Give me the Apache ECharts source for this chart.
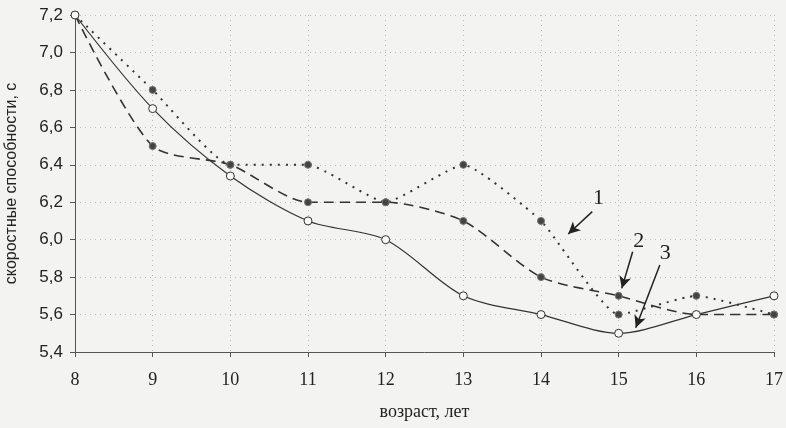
<!DOCTYPE html>
<html>
<head>
<meta charset="utf-8">
<script src="https://cdn.jsdelivr.net/npm/echarts@6/dist/echarts.min.js"></script>
<style>
  html, body { margin: 0; padding: 0; background: #f3f3f1; }
  #chart { width: 786px; height: 428px; }
</style>
</head>
<body>
<div id="chart"></div>
<script>
var ages = [8, 9, 10, 11, 12, 13, 14, 15, 16, 17];
var series1 = [7.2, 6.8, 6.4, 6.4, 6.2, 6.4, 6.1, 5.6, 5.7, 5.6];
var series2 = [7.2, 6.5, 6.4, 6.2, 6.2, 6.1, 5.8, 5.7, 5.6, 5.6];
var series3 = [7.2, 6.7, 6.34, 6.1, 6.0, 5.7, 5.6, 5.5, 5.6, 5.7];
var yTicks = [5.4, 5.6, 5.8, 6.0, 6.2, 6.4, 6.6, 6.8, 7.0, 7.2];
// callouts: label, label position, arrow start, arrow end
var notes = [
  { text: '1', at: [14.74, 6.22], from: [14.66, 6.15], to: [14.35, 6.03] },
  { text: '2', at: [15.26, 5.99], from: [15.18, 5.935], to: [15.04, 5.74] },
  { text: '3', at: [15.60, 5.93], from: [15.53, 5.865], to: [15.22, 5.53] }
];

function pairs(vals) {
  return ages.map(function(a, i) { return [a, vals[i]]; });
}

var ink = '#333';
var myChart = echarts.init(document.getElementById('chart'));
var option = {
  backgroundColor: '#f3f3f1',
  animation: false,
  grid: { left: 75, right: 12, top: 15, bottom: 76, containLabel: false, outerBoundsMode: 'none' },
  xAxis: {
    type: 'value',
    min: 8, max: 17, interval: 1,
    name: 'возраст, лет',
    nameLocation: 'middle',
    nameGap: 51,
    nameTextStyle: { fontFamily: 'Liberation Serif', fontSize: 18, color: '#222' },
    axisLine: { lineStyle: { color: '#555', width: 1 } },
    axisTick: { show: true, length: 5, lineStyle: { color: '#555' } },
    axisLabel: { fontFamily: 'Liberation Serif', fontSize: 18, color: '#222', margin: 19 },
    splitLine: { show: true, lineStyle: { color: '#bbb', type: [1, 4] } }
  },
  yAxis: {
    type: 'value',
    min: 5.4, max: 7.2, interval: 0.2,
    name: 'скоростные способности, с',
    nameLocation: 'middle',
    nameGap: 55,
    nameTextStyle: { fontFamily: 'Liberation Sans', fontSize: 16, color: '#222' },
    axisLine: { show: true, lineStyle: { color: '#555', width: 1 } },
    axisTick: { show: true, length: 5, lineStyle: { color: '#555' } },
    axisLabel: {
      fontFamily: 'Liberation Sans', fontSize: 17, color: '#222', margin: 12,
      formatter: function(v) { return v.toFixed(1).replace('.', ','); }
    },
    splitLine: { show: true, lineStyle: { color: '#bbb', type: [1, 4] } }
  },
  series: [
    {
      name: '1', type: 'line', smooth: 0.15,
      data: pairs(series1),
      symbol: 'circle', symbolSize: 7,
      itemStyle: { color: '#444', borderColor: '#777', borderWidth: 1 },
      lineStyle: { color: ink, width: 2, type: [2, 6] },
      z: 3
    },
    {
      name: '2', type: 'line', smooth: 0.25,
      data: pairs(series2),
      symbol: 'circle', symbolSize: 7,
      itemStyle: { color: '#444', borderColor: '#777', borderWidth: 1 },
      lineStyle: { color: ink, width: 1.6, type: [10, 6] },
      z: 3
    },
    {
      name: '3', type: 'line', smooth: 0.3,
      data: pairs(series3),
      symbol: 'circle', symbolSize: 8,
      itemStyle: { color: '#f8f8f6', borderColor: ink, borderWidth: 1 },
      lineStyle: { color: ink, width: 1.2 },
      z: 4,
      markLine: {
        silent: true,
        symbol: ['none', 'arrow'],
        symbolSize: [9, 12],
        label: { show: false },
        lineStyle: { color: '#222', width: 1.5, type: 'solid' },
        data: notes.map(function(n) {
          return [{ coord: n.from }, { coord: n.to }];
        })
      },
      markPoint: {
        silent: true,
        symbol: 'circle', symbolSize: 1,
        itemStyle: { color: 'rgba(0,0,0,0)' },
        label: {
          show: true, position: 'inside',
          fontFamily: 'Liberation Serif', fontSize: 22, color: '#222',
          formatter: function(p) { return p.name; }
        },
        data: notes.map(function(n) {
          return { name: n.text, coord: n.at };
        })
      }
    }
  ]
};
myChart.setOption(option);
</script>
</body>
</html>
